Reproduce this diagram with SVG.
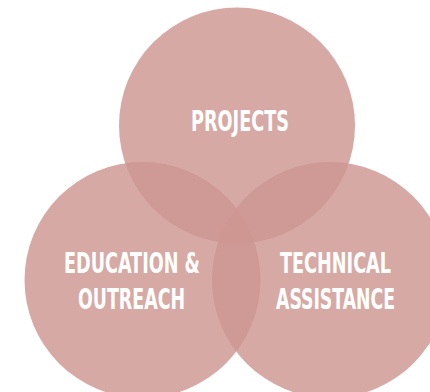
<svg xmlns="http://www.w3.org/2000/svg" width="430" height="392" viewBox="0 0 430 392">
<style>
.c{fill:#CD9691;fill-opacity:0.82}
.t{font-family:"Liberation Sans Narrow","DejaVu Sans Condensed","Liberation Sans",sans-serif;font-weight:bold;font-size:28px;fill:#FFFFFF;text-anchor:middle}
</style>
<rect width="430" height="392" fill="#FFFFFF"/>
<g id="connectors"></g>
<g id="projects">
<circle class="c" cx="237" cy="125.5" r="118"/>
<text class="t" x="240" y="131" textLength="98" lengthAdjust="spacingAndGlyphs">PROJECTS</text>
</g>
<g id="education">
<circle class="c" cx="142.5" cy="280" r="118"/>
<text class="t" x="132" y="273" textLength="136" lengthAdjust="spacingAndGlyphs">EDUCATION &amp;</text>
<text class="t" x="131.5" y="309" textLength="107" lengthAdjust="spacingAndGlyphs">OUTREACH</text>
</g>
<g id="technical">
<circle class="c" cx="330" cy="280" r="118"/>
<text class="t" x="335.5" y="273" textLength="111" lengthAdjust="spacingAndGlyphs">TECHNICAL</text>
<text class="t" x="335.5" y="309" textLength="119" lengthAdjust="spacingAndGlyphs">ASSISTANCE</text>
</g>
</svg>
